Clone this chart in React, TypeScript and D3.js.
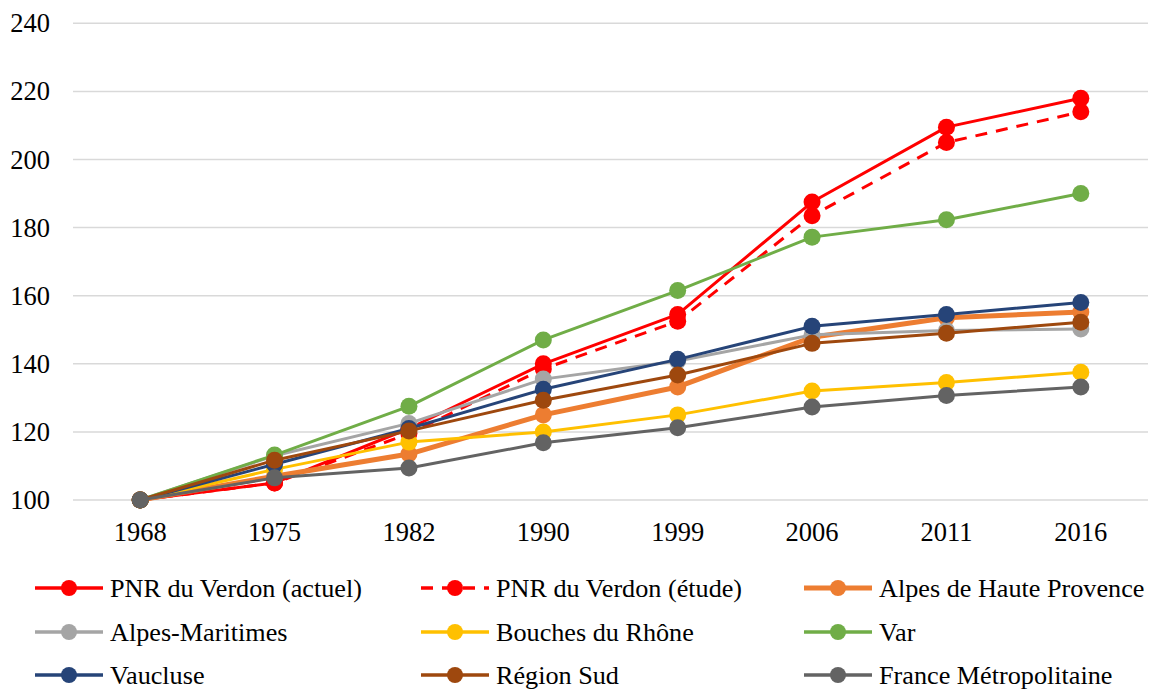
import React, { useEffect } from 'react';
import * as d3 from 'd3';

const years = ['1968', '1975', '1982', '1990', '1999', '2006', '2011', '2016'];
const yTicks = [100, 120, 140, 160, 180, 200, 220, 240];

const pnrActuel = [100, 105, 121, 140, 154.5, 187.5, 209.5, 218];
const pnrEtude = [100, 105, 119.5, 138.5, 152.5, 183.5, 205, 214];
const alpesHauteProvence = [100, 107, 113.5, 125, 133.2, 147.8, 153.5, 155.2];
const alpesMaritimes = [100, 113, 122.5, 135.5, 140.8, 148.5, 149.8, 150.2];
const bouchesDuRhone = [100, 109, 117, 120, 125, 132, 134.5, 137.5];
const varDept = [100, 113.2, 127.5, 147, 161.5, 177.2, 182.3, 190];
const vaucluse = [100, 110.5, 121, 132.5, 141.3, 151, 154.5, 158];
const regionSud = [100, 111.7, 120.3, 129.3, 136.7, 146, 149, 152.2];
const franceMetro = [100, 106.5, 109.4, 116.8, 121.2, 127.3, 130.7, 133.2];

const seriesNames = [
  'PNR du Verdon (actuel)',
  'PNR du Verdon (étude)',
  'Alpes de Haute Provence',
  'Alpes-Maritimes',
  'Bouches du Rhône',
  'Var',
  'Vaucluse',
  'Région Sud',
  'France Métropolitaine',
];
const seriesValues = [
  pnrActuel, pnrEtude, alpesHauteProvence, alpesMaritimes, bouchesDuRhone,
  varDept, vaucluse, regionSud, franceMetro,
];
const seriesColors = [
  '#FF0000', '#FF0000', '#ED7D31', '#A5A5A5', '#FFC000',
  '#70AD47', '#264478', '#9E480E', '#636363',
];

const W = 1151;
const H = 689;
const FONT = "'Liberation Serif'";

export default function App() {
  useEffect(() => {
    document.body.style.margin = '0';
  }, []);

  const x = d3.scaleBand<string>().domain(years).range([73, 1148]);
  const y = d3.scaleLinear().domain([100, 240]).range([500, 23.3]);
  const cx = (d: string) => (x(d) as number) + x.bandwidth() / 2;

  const line = (vals: number[]) =>
    d3.line<number>().x((_, i) => cx(years[i])).y((v) => y(v))(vals) as string;

  const legendCols = [32, 418, 801];
  const legendRows = [588, 632, 675];

  return (
    <svg width={W} height={H} style={{ display: 'block', background: '#fff' }}>
      {yTicks.map((t) => (
        <g key={t}>
          <line x1={73} x2={1148} y1={y(t)} y2={y(t)} stroke="#D9D9D9" strokeWidth={1.5} />
          <text x={50} y={y(t)} dy="0.34em" textAnchor="end" fontSize={26.5} fill="#000" style={{ fontFamily: FONT }}>
            {t}
          </text>
        </g>
      ))}
      {years.map((yr) => (
        <text key={yr} x={cx(yr)} y={532} dy="0.34em" textAnchor="middle" fontSize={26.5} fill="#000" style={{ fontFamily: FONT }}>
          {yr}
        </text>
      ))}
      {seriesValues.map((vals, si) => (
        <g key={si}>
          <path
            d={line(vals)}
            fill="none"
            stroke={seriesColors[si]}
            strokeWidth={si === 2 ? 5 : 3}
            strokeDasharray={si === 1 ? '12 9' : undefined}
            strokeLinejoin="round"
          />
          {vals.map((v, i) => (
            <circle key={i} cx={cx(years[i])} cy={y(v)} r={8.5} fill={seriesColors[si]} />
          ))}
        </g>
      ))}
      {seriesNames.map((name, si) => {
        const lx = legendCols[si % 3];
        const ly = legendRows[Math.floor(si / 3)];
        return (
          <g key={name}>
            <line
              x1={lx + 3}
              x2={lx + 71}
              y1={ly}
              y2={ly}
              stroke={seriesColors[si]}
              strokeWidth={si === 2 ? 5 : 3.5}
              strokeDasharray={si === 1 ? '12 9' : undefined}
            />
            <circle cx={lx + 37} cy={ly} r={8} fill={seriesColors[si]} />
            <text x={lx + 78} y={ly} dy="0.34em" fontSize={26.2} fill="#000" style={{ fontFamily: FONT }}>
              {name}
            </text>
          </g>
        );
      })}
    </svg>
  );
}
